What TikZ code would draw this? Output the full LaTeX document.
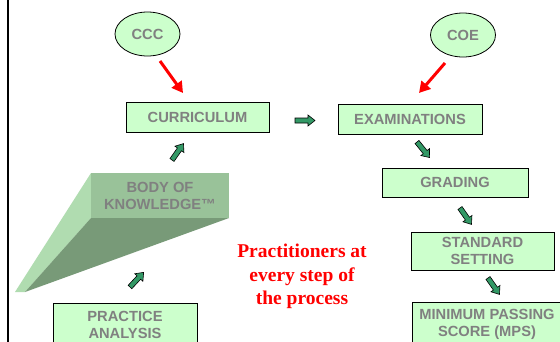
\documentclass[tikz,border=0pt]{standalone}
\usepackage{fontspec}
\setmainfont{Liberation Sans}
\newfontfamily\serifbold{Liberation Serif}
\usetikzlibrary{arrows.meta,shapes.geometric}
\definecolor{boxgreen}{HTML}{CCFFCC}
\definecolor{txtgray}{HTML}{808080}
\definecolor{arrgreen}{HTML}{339966}
\definecolor{bokfront}{HTML}{99C299}
\definecolor{boklight}{HTML}{B0DCB0}
\definecolor{bokdark}{HTML}{789A78}
\begin{document}
\begin{tikzpicture}[x=1pt,y=-1pt,
  boxfont/.style={font=\fontsize{14.7}{17}\selectfont\bfseries},
  box/.style={draw=black, line width=0.8pt, fill=boxgreen, text=txtgray, boxfont, inner sep=0pt, align=center},
  oval/.style={ellipse, draw=black, line width=0.8pt, fill=boxgreen, text=txtgray, boxfont, inner sep=0pt, minimum width=65pt, minimum height=44pt},
  redarrow/.style={draw=red, line width=3pt, -{Triangle[width=12pt,length=11pt]}},
  garrow/.pic={\draw[fill=arrgreen, draw=black, line width=0.6pt, line join=miter]
     (0,-2.5) -- (13,-2.5) -- (13,-5.5) -- (20,0) -- (13,5.5) -- (13,2.5) -- (0,2.5) -- cycle;}
]
\useasboundingbox (0,0) rectangle (560,341);
\fill[white] (0,0) rectangle (560,341);
% left border line
\draw[line width=2pt] (8,-2) -- (8,345);

% body of knowledge prism
\fill[boklight] (91,173) -- (15,292) -- (25,292) -- (91,218) -- cycle;
\fill[bokdark] (91,218) -- (229,218) -- (25,292) -- cycle;
\fill[bokfront] (91,173) rectangle (229,218);
\node[text=txtgray, boxfont, align=center, inner sep=0pt] (bok) at (160,195.5) {BODY OF\\KNOWLEDGE™};

% ovals
\node[oval] (ccc) at (147.5,34) {CCC};
\node[oval] (coe) at (463,35) {COE};

% boxes
\node[box, minimum width=143pt, minimum height=30pt] (cur) at (197.5,117) {CURRICULUM};
\node[box, minimum width=144pt, minimum height=30pt] (exam) at (410,119) {EXAMINATIONS};
\node[box, minimum width=146pt, minimum height=29pt] (grad) at (455,182.5) {GRADING};
\node[box, minimum width=143pt, minimum height=38pt] (std) at (482.5,251) {STANDARD\\SETTING};
\node[box, minimum width=150pt, minimum height=44pt] (mps) at (487,324) {MINIMUM PASSING\\SCORE (MPS)};
\node[box, minimum width=144pt, minimum height=44pt] (pa) at (125,325) {PRACTICE\\ANALYSIS};

% red text
\node[font=\serifbold\bfseries\fontsize{19.5}{23.2}\selectfont, text=red, align=center, inner sep=0pt] (prac) at (302,276.5) {Practitioners at\\every step of\\the process};

% red arrows
\coordinate (ra1) at (160,61);
\coordinate (rb1) at (183,93);
\coordinate (ra2) at (445,63);
\coordinate (rb2) at (419,93);
\draw[redarrow] (ra1) -- (rb1);
\draw[redarrow] (ra2) -- (rb2);

% green block arrows
\pic[rotate=47] at (130,287) {garrow};
\pic[rotate=55] at (172,160) {garrow};
\pic at (295,120.5) {garrow};
\pic[rotate=-51] at (417,142) {garrow};
\pic[rotate=-55] at (460,208) {garrow};
\pic[rotate=-55] at (488,278) {garrow};
\end{tikzpicture}
\end{document}
